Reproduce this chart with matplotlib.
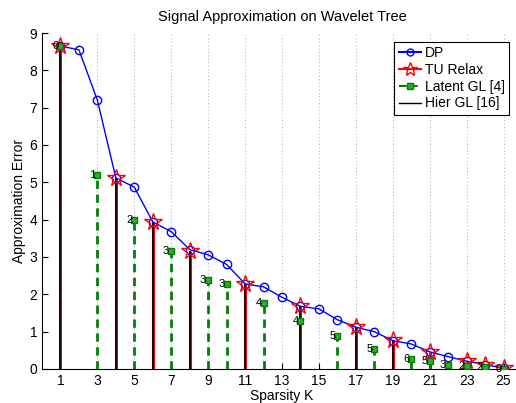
import numpy as np
import matplotlib.pyplot as plt
from matplotlib.lines import Line2D

plt.rcParams['font.family'] = ['Liberation Sans', 'DejaVu Sans']

# sparsity levels and errors
K = np.arange(1, 26)
dp_err = [8.65, 8.55, 7.2, 5.12, 4.87, 3.94, 3.68, 3.2, 3.06, 2.8, 2.28, 2.2, 1.92,
          1.68, 1.61, 1.32, 1.12, 1.0, 0.76, 0.67, 0.46, 0.33, 0.21, 0.12, 0.02]

tu_k = [1, 4, 6, 8, 11, 14, 17, 19, 21, 23, 24, 25]
tu_err = [8.65, 5.12, 3.94, 3.17, 2.29, 1.69, 1.12, 0.77, 0.46, 0.21, 0.11, 0.02]

hier_k = [1, 4, 6, 8, 11, 14, 17, 19]
hier_err = [8.65, 5.12, 3.94, 3.17, 2.29, 1.69, 1.12, 0.77]

lat_k = [1, 3, 5, 7, 9, 10, 12, 14, 16, 18, 20, 21, 22, 23, 24, 25]
lat_err = [8.65, 5.2, 4.0, 3.15, 2.38, 2.28, 1.77, 1.28, 0.89, 0.54, 0.27, 0.21,
           0.1, 0.08, 0.05, 0.01]
lat_lbl = ['0', '1', '2', '3', '3', '3', '4', '4', '5', '5', '6', '5', '3', '2', '2', '0']

xticks = list(range(1, 26, 2))

fig = plt.figure(figsize=(5.16, 4.03), dpi=100)
# axes box in pixels: left 42, right ~522 (cut off), bottom 369, top 33
ax = fig.add_axes([42 / 516, 34 / 403, 480 / 516, 336 / 403])

ax.vlines(tu_k, 0, tu_err, colors='red', linewidth=2.2, zorder=2)
ax.vlines(lat_k, 0, lat_err, colors='#008000', linewidth=2.0,
          linestyles=(0, (3, 2)), zorder=3)
ax.vlines(hier_k, 0, hier_err, colors='black', linewidth=1.2, zorder=4)

ax.plot(K, dp_err, '-o', color='blue', linewidth=1.0, markersize=6,
        markerfacecolor='none', markeredgewidth=1.0, zorder=5)
ax.plot(tu_k, tu_err, '*', color='red', markersize=13, markerfacecolor='none',
        markeredgewidth=1.0, zorder=6)
ax.plot(lat_k, lat_err, 's', color='#008000', markersize=4.5,
        markerfacecolor='#33aa33', markeredgewidth=1.0, zorder=6)

for k, e, s in zip(lat_k, lat_err, lat_lbl):
    ax.annotate(s, (k, e), xytext=(-1.5, 0), textcoords='offset points',
                ha='right', va='center', fontsize=8, zorder=7)

ax.set_xlim(0, 26)
ax.set_ylim(0, 9)
ax.set_xticks(xticks)
ax.set_yticks(range(0, 10))
ax.tick_params(direction='in', labelsize=10, length=4)
ax.xaxis.grid(True, linestyle=(0, (1, 2.5)), color='#aaaaaa', linewidth=0.7)
ax.set_axisbelow(True)
ax.spines['top'].set_visible(False)
ax.spines['right'].set_visible(False)

ax.set_xlabel('Sparsity K', fontsize=10, labelpad=0.5)
ax.set_ylabel('Approximation Error', fontsize=10, labelpad=2)
ax.set_title('Signal Approximation on Wavelet Tree', fontsize=10.5, pad=9)

handles = [
    Line2D([], [], color='blue', marker='o', markerfacecolor='none', markersize=5),
    Line2D([], [], color='red', marker='*', markerfacecolor='none', markersize=10),
    Line2D([], [], color='#008000', linestyle='--', marker='s', markersize=4,
           markerfacecolor='#33aa33'),
    Line2D([], [], color='black', linewidth=1.0),
]
leg = fig.legend(handles, ['DP', 'TU Relax', 'Latent GL [4]', 'Hier GL [16]'],
                 loc='upper right', bbox_to_anchor=(516 / 516, 1 - 35 / 403),
                 fontsize=10, handlelength=1.6, handletextpad=0.3,
                 borderpad=0.3, labelspacing=0.2, fancybox=False,
                 edgecolor='black', framealpha=1)
leg.get_frame().set_linewidth(0.8)

fig.savefig('out.png', dpi=100)
